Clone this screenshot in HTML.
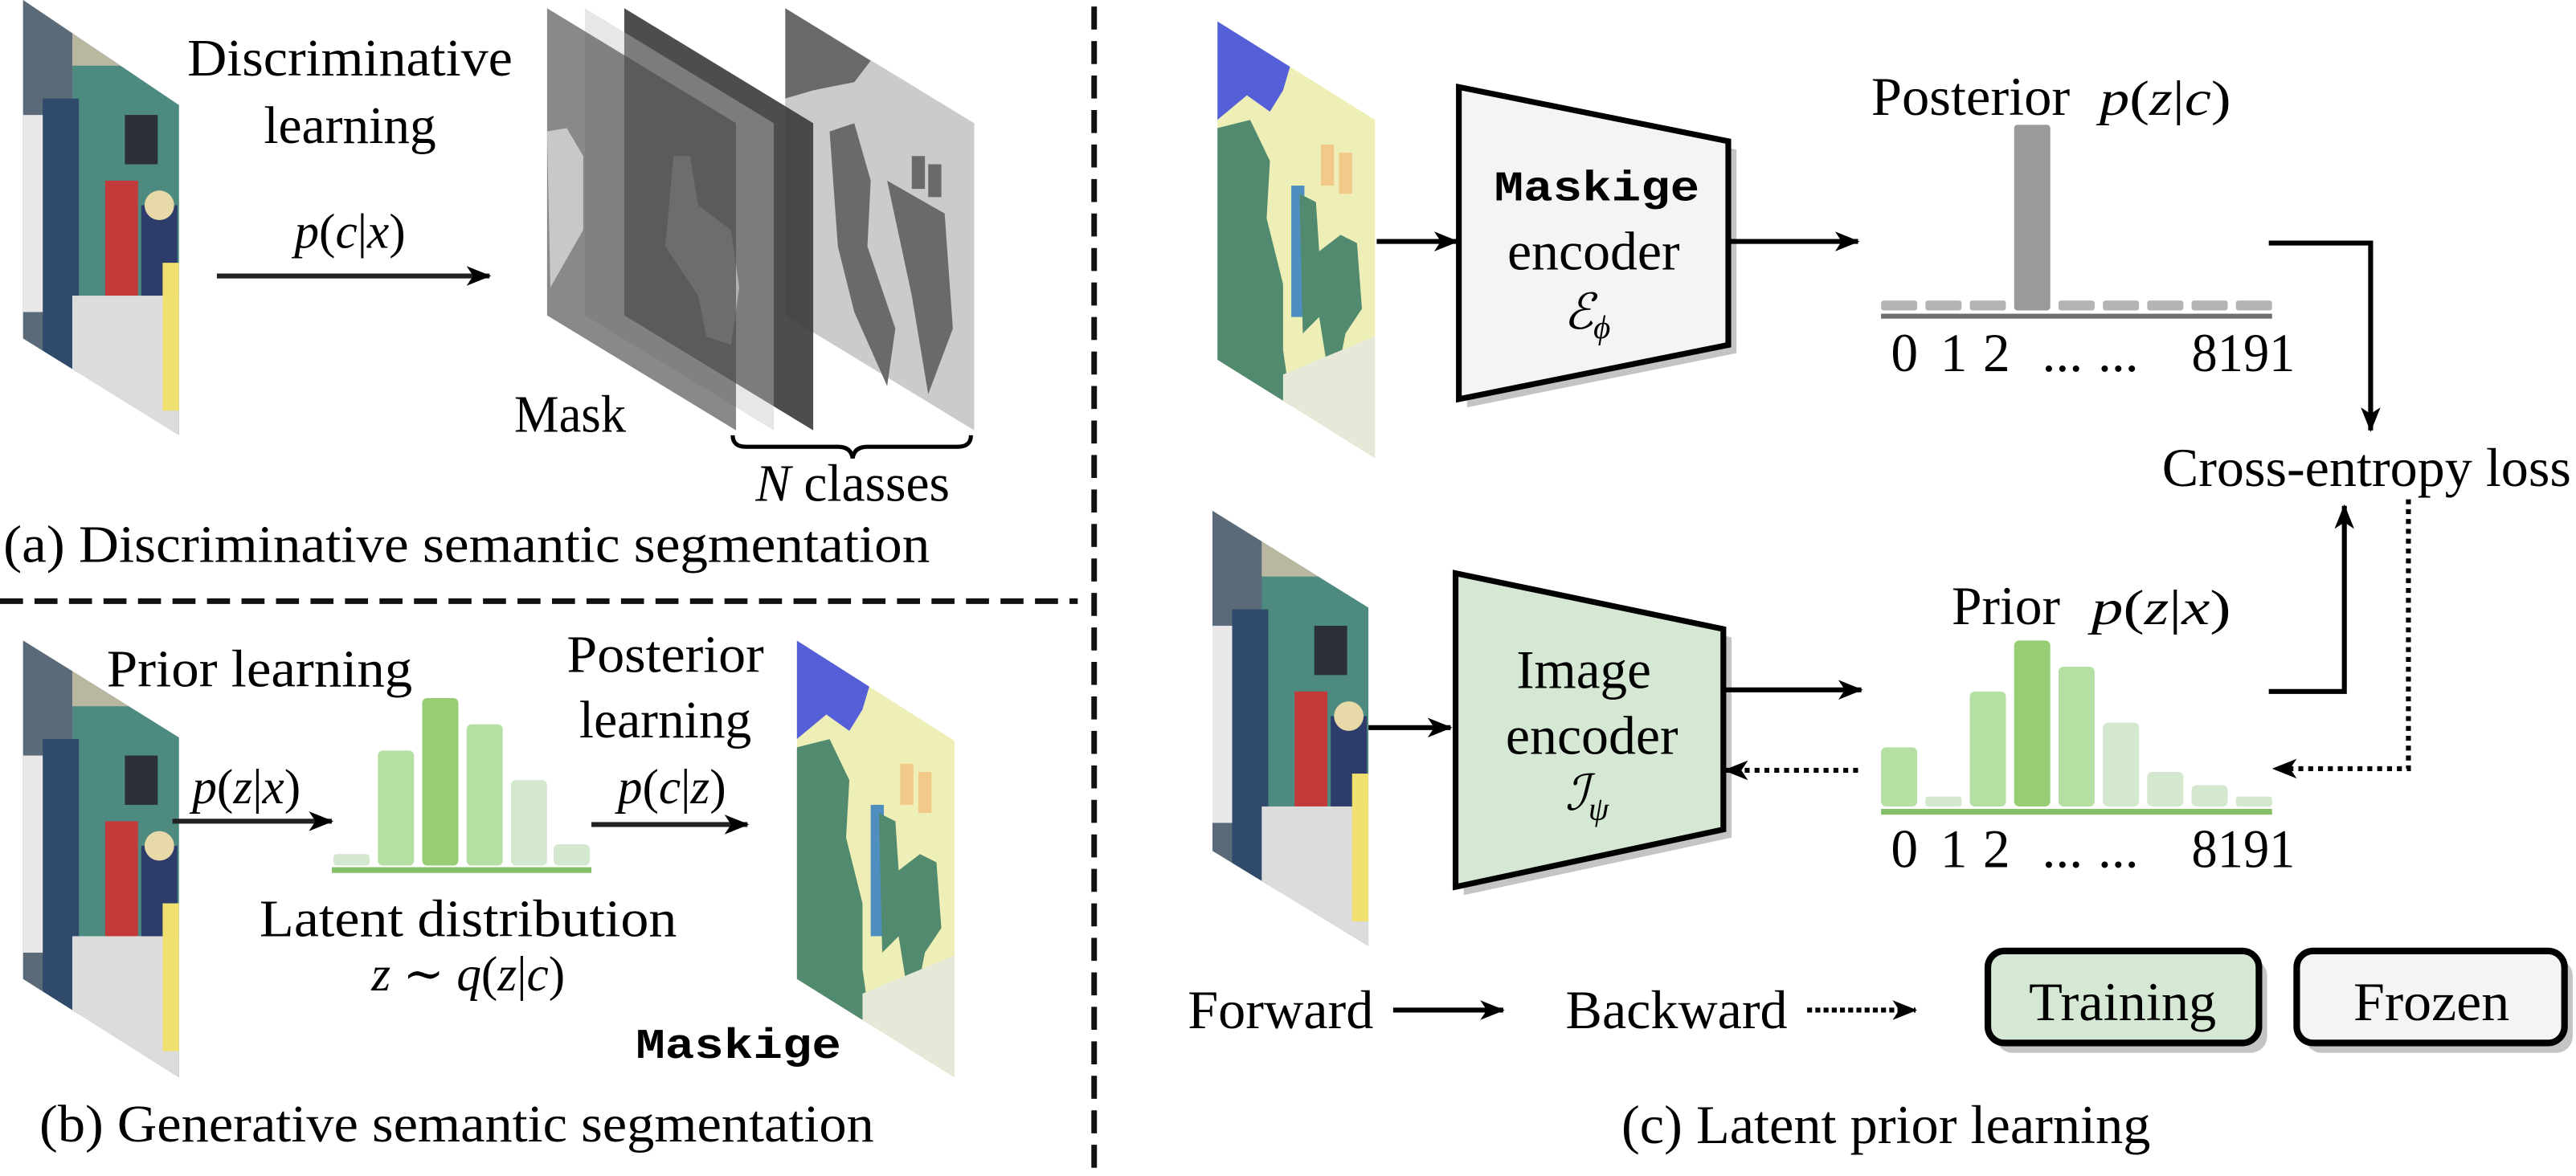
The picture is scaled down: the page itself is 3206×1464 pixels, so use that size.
<!DOCTYPE html>
<html><head><meta charset="utf-8"><style>
html,body{margin:0;padding:0;background:#fff;}
svg{display:block;font-family:"Liberation Serif","Noto Serif CJK SC","Times New Roman","DejaVu Serif",Times,serif;}
svg text{font-family:"Liberation Serif","Noto Serif CJK SC","Times New Roman","DejaVu Serif",Times,serif;fill:#000;}
svg text.mono{font-family:"Liberation Mono","DejaVu Sans Mono",monospace;font-weight:bold;}
</style></head><body>
<svg width="3206" height="1464" viewBox="0 0 1568 716" preserveAspectRatio="none" xmlns="http://www.w3.org/2000/svg">
<defs>
<marker id="ah" markerUnits="userSpaceOnUse" markerWidth="16" markerHeight="14" refX="14" refY="7" orient="auto">
<path d="M0,1 L15,7 L0,13 L4,7 Z" fill="#000"/></marker>
<clipPath id="pa"><polygon points="14,0 109,64 109,265 14,206"/></clipPath>
<clipPath id="pb"><polygon points="14,390 109,449 109,656 14,596"/></clipPath>
<clipPath id="pc"><polygon points="738,311 833,370 833,576 738,518"/></clipPath>
<clipPath id="mb"><polygon points="485,390 581,451 581,656 485,596"/></clipPath>
<clipPath id="mc"><polygon points="741,13 837,73 837,279 741,219"/></clipPath>
<g id="photo">
<rect x="0" y="0" width="100" height="270" fill="#4d8a80"/>
<rect x="0" y="0" width="100" height="40" fill="#b9b7a0"/>
<rect x="0" y="0" width="30" height="270" fill="#5a6a78"/>
<rect x="12" y="60" width="22" height="200" fill="#2f4a6a"/>
<rect x="0" y="70" width="12" height="120" fill="#e8e8e8"/>
<rect x="62" y="70" width="20" height="30" fill="#2a3036"/>
<rect x="50" y="110" width="20" height="70" fill="#c23a3a"/>
<rect x="72" y="125" width="22" height="80" fill="#2d3c6a"/>
<circle cx="83" cy="125" r="9" fill="#e8d9a8"/>
<rect x="30" y="180" width="70" height="90" fill="#dcdcdc"/>
<rect x="85" y="160" width="15" height="90" fill="#f0e070"/>
</g>
<g id="mskg">
<rect x="0" y="0" width="100" height="270" fill="#eeefb6"/>
<polygon points="0,0 45,25 40,42 32,55 18,45 0,60" fill="#5560d8"/>
<polygon points="0,65 20,60 32,85 30,120 40,160 40,200 50,270 0,270" fill="#528a6f"/>
<rect x="45" y="100" width="8" height="80" fill="#4e8fc0"/>
<polygon points="50,105 60,110 62,140 75,130 85,135 88,175 78,190 70,230 62,180 52,190" fill="#528a6f"/>
<rect x="63" y="75" width="8" height="25" fill="#f3c98a"/>
<rect x="74" y="80" width="8" height="25" fill="#f3c98a"/>
<polygon points="40,215 100,190 100,270 40,270" fill="#e6e8d8"/>
</g>
</defs>

<line x1="0" y1="366" x2="656" y2="366" stroke="#111" stroke-width="3.4" stroke-dasharray="14 7"/>
<line x1="666" y1="4" x2="666" y2="716" stroke="#111" stroke-width="3.4" stroke-dasharray="14 7"/>

<!-- (a) -->
<g clip-path="url(#pa)"><use href="#photo" transform="translate(14,0)"/></g>
<text x="213" y="46" font-size="32" text-anchor="middle" textLength="198" lengthAdjust="spacingAndGlyphs">Discriminative</text>
<text x="213" y="87" font-size="32" text-anchor="middle">learning</text>
<text x="213" y="151" font-size="30" text-anchor="middle"><tspan font-style="italic">p</tspan>(<tspan font-style="italic">c</tspan>|<tspan font-style="italic">x</tspan>)</text>
<line x1="132" y1="168" x2="298" y2="168" stroke="#222" stroke-width="3" marker-end="url(#ah)"/>

<g>
<polygon points="478,5 593,75 593,262 478,192" fill="#cbcbcb"/>
<polygon points="478,5 530,37 520,50 495,55 478,60" fill="#6a6a6a"/>
<polygon points="505,80 520,75 530,110 528,150 545,200 540,235 520,190 510,150" fill="#6a6a6a"/>
<polygon points="540,110 575,130 580,200 565,240 555,180" fill="#6a6a6a"/>
<rect x="555" y="95" width="8" height="20" fill="#6a6a6a"/><rect x="565" y="100" width="8" height="20" fill="#6a6a6a"/>
<polygon points="380,5 495,75 495,262 380,192" fill="#3a3a3a" opacity="0.9"/>
<polygon points="410,95 420,95 425,125 445,140 450,175 445,210 430,205 425,180 405,150" fill="#a4a4a4"/>
<polygon points="356,5 471,75 471,262 356,192" fill="#c4c4c4" opacity="0.4"/>
<polygon points="333,5 448,75 448,262 333,192" fill="#4a4a4a" opacity="0.65"/>
<polygon points="333,80 345,78 355,95 355,140 335,175" fill="#c8c8c8"/>
</g>
<text x="313" y="263" font-size="32" textLength="68" lengthAdjust="spacingAndGlyphs">Mask</text>
<path d="M446,265 q0,7 8,7 L510,272 q8,0 9,7 q1,-7 9,-7 L583,272 q8,0 8,-7" fill="none" stroke="#000" stroke-width="2.5"/>
<text x="519" y="305" font-size="32" text-anchor="middle"><tspan font-style="italic">N</tspan> classes</text>
<text x="2" y="342" font-size="32" textLength="564" lengthAdjust="spacingAndGlyphs">(a) Discriminative semantic segmentation</text>

<!-- (b) -->
<g clip-path="url(#pb)"><use href="#photo" transform="translate(14,390)"/></g>
<text x="65" y="418" font-size="32" textLength="186" lengthAdjust="spacingAndGlyphs">Prior learning</text>
<text x="150" y="489" font-size="30" text-anchor="middle"><tspan font-style="italic">p</tspan>(<tspan font-style="italic">z</tspan>|<tspan font-style="italic">x</tspan>)</text>
<line x1="105" y1="500" x2="202" y2="500" stroke="#222" stroke-width="3" marker-end="url(#ah)"/>
<g>
<rect x="203" y="520" width="22" height="7" rx="2" fill="#d3e8cf"/>
<rect x="230" y="457" width="22" height="70" rx="3" fill="#b6dfa4"/>
<rect x="257" y="425" width="22" height="102" rx="3" fill="#97ce75"/>
<rect x="284" y="441" width="22" height="86" rx="3" fill="#b6dfa4"/>
<rect x="311" y="475" width="22" height="52" rx="3" fill="#d3e8cf"/>
<rect x="337" y="514" width="22" height="13" rx="3" fill="#d3e8cf"/>
<rect x="202" y="528" width="158" height="3.5" fill="#86bf6a"/>
</g>
<text x="405" y="409" font-size="32" text-anchor="middle" textLength="120" lengthAdjust="spacingAndGlyphs">Posterior</text>
<text x="405" y="449" font-size="32" text-anchor="middle">learning</text>
<text x="409" y="489" font-size="30" text-anchor="middle"><tspan font-style="italic">p</tspan>(<tspan font-style="italic">c</tspan>|<tspan font-style="italic">z</tspan>)</text>
<line x1="360" y1="502" x2="455" y2="502" stroke="#222" stroke-width="3" marker-end="url(#ah)"/>
<g clip-path="url(#mb)"><use href="#mskg" transform="translate(485,390)"/></g>
<text x="285" y="570" font-size="32" text-anchor="middle" textLength="254" lengthAdjust="spacingAndGlyphs">Latent distribution</text>
<text x="285" y="603" font-size="30" text-anchor="middle"><tspan font-style="italic">z</tspan> ∼ <tspan font-style="italic">q</tspan>(<tspan font-style="italic">z</tspan>|<tspan font-style="italic">c</tspan>)</text>
<text class="mono" x="387" y="644" font-size="26" textLength="125" lengthAdjust="spacingAndGlyphs">Maskige</text>
<text x="24" y="695" font-size="32" textLength="508" lengthAdjust="spacingAndGlyphs">(b) Generative semantic segmentation</text>

<!-- (c) -->
<g clip-path="url(#mc)"><use href="#mskg" transform="translate(741,13)"/></g>
<line x1="838" y1="147" x2="887" y2="147" stroke="#000" stroke-width="3" marker-end="url(#ah)"/>
<polygon points="893,58 1057,91 1057,215 893,248" fill="#c4c4c4"/>
<polygon points="888,53 1052,86 1052,210 888,243" fill="#f4f4f4" stroke="#000" stroke-width="3.5"/>
<text class="mono" x="972" y="122" font-size="26" text-anchor="middle" textLength="125" lengthAdjust="spacingAndGlyphs">Maskige</text>
<text x="970" y="164" font-size="33" text-anchor="middle" textLength="105" lengthAdjust="spacingAndGlyphs">encoder</text>
<text x="966" y="200" font-size="30" text-anchor="middle" font-style="italic">ℰ<tspan font-size="20" dy="6">ϕ</tspan></text>
<line x1="1052" y1="147" x2="1131" y2="147" stroke="#000" stroke-width="3" marker-end="url(#ah)"/>

<text x="1139" y="70" font-size="33" textLength="121" lengthAdjust="spacingAndGlyphs">Posterior</text>
<text x="1278" y="70" font-size="30" textLength="80" lengthAdjust="spacingAndGlyphs"><tspan font-style="italic">p</tspan>(<tspan font-style="italic">z</tspan>|<tspan font-style="italic">c</tspan>)</text>
<g fill="#b4b4b4">
<rect x="1145" y="183" width="22" height="6" rx="1.5"/>
<rect x="1172" y="183" width="22" height="6" rx="1.5"/>
<rect x="1199" y="183" width="22" height="6" rx="1.5"/>
<rect x="1253" y="183" width="22" height="6" rx="1.5"/>
<rect x="1280" y="183" width="22" height="6" rx="1.5"/>
<rect x="1307" y="183" width="22" height="6" rx="1.5"/>
<rect x="1334" y="183" width="22" height="6" rx="1.5"/>
<rect x="1361" y="183" width="22" height="6" rx="1.5"/>
</g>
<rect x="1226" y="76" width="22" height="113" rx="2" fill="#9a9a9a"/>
<rect x="1145" y="191" width="238" height="3" fill="#6e6e6e"/>
<g font-size="33">
<text x="1151" y="226">0</text><text x="1181" y="226">1</text><text x="1207" y="226">2</text>
<text x="1243" y="226">...</text><text x="1277" y="226">...</text>
<text x="1334" y="226" textLength="63" lengthAdjust="spacingAndGlyphs">8191</text>
</g>
<polyline points="1381,148 1443,148 1443,262" fill="none" stroke="#000" stroke-width="3" marker-end="url(#ah)"/>
<text x="1316" y="296" font-size="33" textLength="249" lengthAdjust="spacingAndGlyphs">Cross-entropy loss</text>

<g clip-path="url(#pc)"><use href="#photo" transform="translate(738,311)"/></g>
<line x1="833" y1="443" x2="883" y2="443" stroke="#000" stroke-width="3" marker-end="url(#ah)"/>
<polygon points="891,354 1054,388 1054,510 891,545" fill="#c4c4c4"/>
<polygon points="886,349 1049,383 1049,505 886,540" fill="#d5e8d4" stroke="#000" stroke-width="3.5"/>
<text x="964" y="419" font-size="33" text-anchor="middle" textLength="82" lengthAdjust="spacingAndGlyphs">Image</text>
<text x="969" y="459" font-size="33" text-anchor="middle" textLength="105" lengthAdjust="spacingAndGlyphs">encoder</text>
<text x="966" y="493" font-size="30" text-anchor="middle" font-style="italic">ℐ<tspan font-size="20" dy="6">ψ</tspan></text>
<line x1="1049" y1="420" x2="1133" y2="420" stroke="#000" stroke-width="3" marker-end="url(#ah)"/>
<line x1="1131" y1="469" x2="1050" y2="469" stroke="#000" stroke-width="3" stroke-dasharray="3 3" marker-end="url(#ah)"/>

<text x="1188" y="380" font-size="33" textLength="66" lengthAdjust="spacingAndGlyphs">Prior</text>
<text x="1273" y="380" font-size="30" textLength="85" lengthAdjust="spacingAndGlyphs"><tspan font-style="italic">p</tspan>(<tspan font-style="italic">z</tspan>|<tspan font-style="italic">x</tspan>)</text>
<g>
<rect x="1145" y="455" width="22" height="36" rx="3" fill="#b6dfa4"/>
<rect x="1172" y="485" width="22" height="6" rx="1.5" fill="#d3e8cf"/>
<rect x="1199" y="421" width="22" height="70" rx="3" fill="#b6dfa4"/>
<rect x="1226" y="390" width="22" height="101" rx="3" fill="#97ce75"/>
<rect x="1253" y="406" width="22" height="85" rx="3" fill="#b6dfa4"/>
<rect x="1280" y="440" width="22" height="51" rx="3" fill="#d3e8cf"/>
<rect x="1307" y="470" width="22" height="21" rx="3" fill="#d3e8cf"/>
<rect x="1334" y="478" width="22" height="13" rx="3" fill="#d3e8cf"/>
<rect x="1361" y="485" width="22" height="6" rx="1.5" fill="#d3e8cf"/>
<rect x="1145" y="492.5" width="238" height="3.5" fill="#86bf6a"/>
</g>
<g font-size="33">
<text x="1151" y="528">0</text><text x="1181" y="528">1</text><text x="1207" y="528">2</text>
<text x="1243" y="528">...</text><text x="1277" y="528">...</text>
<text x="1334" y="528" textLength="63" lengthAdjust="spacingAndGlyphs">8191</text>
</g>
<polyline points="1381,421 1427,421 1427,308" fill="none" stroke="#000" stroke-width="3" marker-end="url(#ah)"/>
<polyline points="1466,304 1466,468 1384,468" fill="none" stroke="#000" stroke-width="3" stroke-dasharray="3 3" marker-end="url(#ah)"/>

<text x="723" y="626" font-size="33" textLength="113" lengthAdjust="spacingAndGlyphs">Forward</text>
<line x1="848" y1="615" x2="915" y2="615" stroke="#000" stroke-width="3" marker-end="url(#ah)"/>
<text x="953" y="626" font-size="33" textLength="135" lengthAdjust="spacingAndGlyphs">Backward</text>
<line x1="1100" y1="615" x2="1166" y2="615" stroke="#000" stroke-width="3" stroke-dasharray="3 2" marker-end="url(#ah)"/>
<rect x="1215" y="584" width="165" height="57" rx="10" fill="#c4c4c4"/>
<rect x="1210" y="579" width="165" height="56" rx="10" fill="#d5e8d4" stroke="#000" stroke-width="4"/>
<text x="1292" y="621" font-size="33" text-anchor="middle" textLength="114" lengthAdjust="spacingAndGlyphs">Training</text>
<rect x="1403" y="584" width="163" height="57" rx="10" fill="#c4c4c4"/>
<rect x="1398" y="579" width="163" height="56" rx="10" fill="#f4f4f4" stroke="#000" stroke-width="4"/>
<text x="1480" y="621" font-size="33" text-anchor="middle" textLength="95" lengthAdjust="spacingAndGlyphs">Frozen</text>
<text x="987" y="696" font-size="33" textLength="322" lengthAdjust="spacingAndGlyphs">(c) Latent prior learning</text>
</svg>
</body></html>
